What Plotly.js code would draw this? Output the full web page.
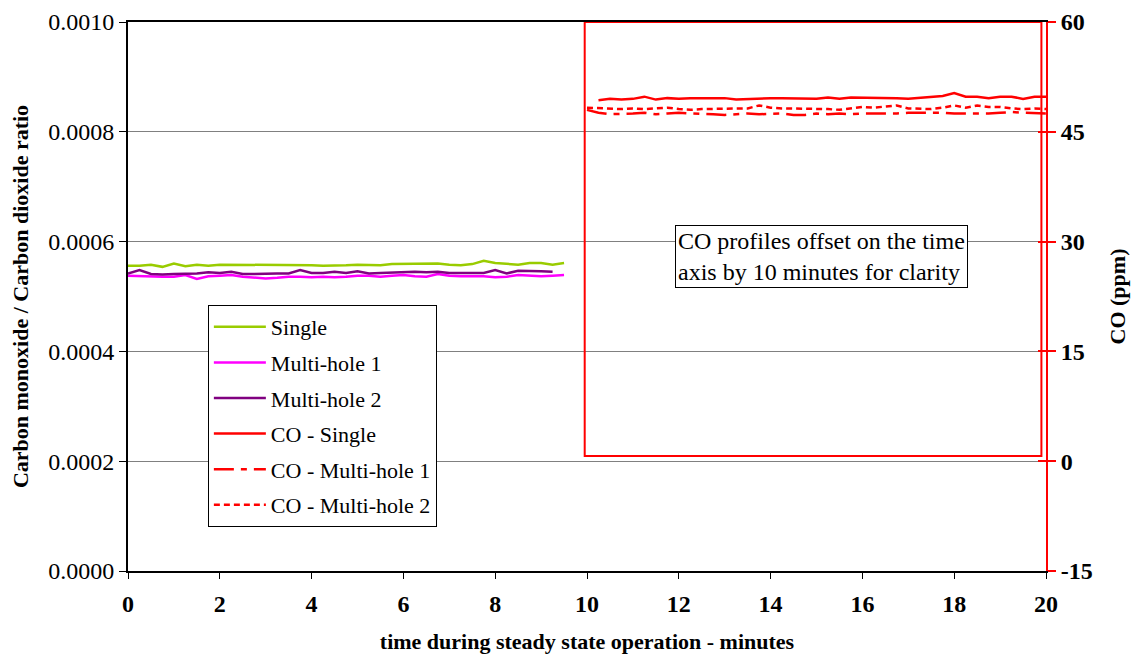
<!DOCTYPE html>
<html>
<head>
<meta charset="utf-8">
<script src="https://cdn.plot.ly/plotly-3.0.1.min.js"></script>
<style>html,body{margin:0;padding:0;background:#fff}#chart{width:1136px;height:657px}</style>
</head>
<body>
<div id="chart"></div>
<script>
// time (minutes) for ratio profiles
const timeRatio = [0,0.25,0.5,0.75,1,1.25,1.5,1.75,2,2.25,2.5,2.75,3,3.25,3.5,3.75,4,4.25,4.5,4.75,5,5.25,5.5,5.75,6,6.25,6.5,6.75,7,7.25,7.5,7.75,8,8.25,8.5,8.75,9,9.25,9.5];
// time (minutes, offset by 10) for CO profiles
const timeCO = [10,10.25,10.5,10.75,11,11.25,11.5,11.75,12,12.25,12.5,12.75,13,13.25,13.5,13.75,14,14.25,14.5,14.75,15,15.25,15.5,15.75,16,16.25,16.5,16.75,17,17.25,17.5,17.75,18,18.25,18.5,18.75,19,19.25,19.5,19.75,20];

const ratioSingle = [0.000556,0.000556,0.000558,0.000554,0.000560,0.000555,0.000558,0.000556,0.000558,0.000558,0.000558,0.000558,0.000557,0.000558,0.000558,0.000558,0.000557,0.000556,0.000556,0.000557,0.000558,0.000557,0.000557,0.000559,0.000559,0.000559,0.000559,0.000560,0.000558,0.000557,0.000559,0.000565,0.000561,0.000560,0.000558,0.000561,0.000561,0.000558,0.000561];
const ratioMulti1 = [0.000538,0.000537,0.000536,0.000536,0.000536,0.000539,0.000532,0.000537,0.000538,0.000539,0.000536,0.000534,0.000533,0.000534,0.000536,0.000536,0.000535,0.000536,0.000535,0.000536,0.000538,0.000538,0.000536,0.000538,0.000539,0.000537,0.000536,0.000541,0.000538,0.000537,0.000537,0.000537,0.000535,0.000536,0.000539,0.000538,0.000537,0.000538,0.000539];
const ratioMulti2 = [0.000542,0.000548,0.000541,0.000540,0.000541,0.000541,0.000542,0.000544,0.000543,0.000545,0.000541,0.000541,0.000542,0.000542,0.000542,0.000548,0.000543,0.000543,0.000545,0.000543,0.000546,0.000542,0.000543,0.000544,0.000545,0.000545,0.000544,0.000545,0.000543,0.000543,0.000542,0.000543,0.000548,0.000542,0.000547,0.000547,0.000546,0.000545];

const coSingle = [null,49.3,49.5,49.4,49.5,49.8,49.4,49.6,49.5,49.6,49.6,49.6,49.6,49.4,49.5,49.6,49.6,49.6,49.6,49.5,49.5,49.7,49.5,49.7,49.7,49.7,49.7,49.6,49.5,49.6,49.7,49.9,50.3,49.8,49.8,49.6,49.8,49.8,49.5,49.8,49.8];
const coMulti1 = [48.0,47.6,47.4,47.4,47.5,47.6,47.4,47.5,47.6,47.5,47.5,47.4,47.3,47.4,47.5,47.4,47.4,47.5,47.3,47.3,47.5,47.4,47.5,47.4,47.5,47.5,47.4,47.5,47.6,47.6,47.7,47.6,47.5,47.5,47.4,47.5,47.6,47.7,47.6,47.5,47.5];
const coMulti2 = [48.3,48.2,48.1,48.1,48.2,48.1,48.2,48.3,48.1,48.0,48.1,48.1,48.2,48.2,48.2,48.6,48.3,48.2,48.2,48.2,48.2,48.1,48.0,48.2,48.4,48.3,48.4,48.6,48.2,48.1,48.1,48.3,48.6,48.3,48.6,48.4,48.4,48.2,48.1,48.2,48.1];

const xTicks = [0,2,4,6,8,10,12,14,16,18,20];
const yLeftTicks = [0,0.0002,0.0004,0.0006,0.0008,0.0010];
const yRightTicks = [-15,0,15,30,45,60];

const FONT = '"Liberation Serif", "Times New Roman", Times, serif';
const RED = '#FF0000';

const traces = [
  {x: timeRatio, y: ratioSingle, name: 'Single', mode: 'lines', line: {color: '#99CC00', width: 2.5}, legendgroup: 'a'},
  {x: timeRatio, y: ratioMulti1, name: 'Multi-hole 1', mode: 'lines', line: {color: '#FF00FF', width: 2.5}, legendgroup: 'b'},
  {x: timeRatio.slice(0, ratioMulti2.length), y: ratioMulti2, name: 'Multi-hole 2', mode: 'lines', line: {color: '#800080', width: 2.5}, legendgroup: 'c'},
  {x: timeCO, y: coSingle, name: 'CO - Single', mode: 'lines', yaxis: 'y2', line: {color: RED, width: 2.5}, legendgroup: 'd'},
  {x: timeCO, y: coMulti1, name: 'CO - Multi-hole 1', mode: 'lines', yaxis: 'y2', line: {color: RED, width: 2.5, dash: '20px,7px,6px,7px'}, legendgroup: 'e'},
  {x: timeCO, y: coMulti2, name: 'CO - Multi-hole 2', mode: 'lines', yaxis: 'y2', line: {color: RED, width: 2.5, dash: '6px,4px'}, legendgroup: 'f'},
  {x: [timeCO[0]], y: [0], yaxis: 'y3', mode: 'lines', showlegend: false, hoverinfo: 'skip', line: {color: 'rgba(0,0,0,0)'}}
];

const layout = {
  width: 1136, height: 657,
  margin: {l: 128, r: 90, t: 22, b: 86},
  paper_bgcolor: '#fff', plot_bgcolor: '#fff',
  font: {family: FONT, color: '#000', size: 22},
  showlegend: true,
  legend: {
    x: 0.087, y: 0.4845, xanchor: 'left', yanchor: 'top',
    bgcolor: '#fff', bordercolor: '#000', borderwidth: 1,
    font: {family: FONT, size: 22, color: '#000'},
    tracegroupgap: 4, itemwidth: 52
  },
  xaxis: {
    range: [0, 20], tickvals: xTicks, ticktext: xTicks.map(v => '<b>' + v + '</b>'),
    showline: true, linecolor: '#000', linewidth: 2, mirror: true,
    ticks: 'outside', ticklen: 6, tickcolor: '#000', tickwidth: 1,
    ticklabelstandoff: 4,
    showgrid: false, zeroline: false,
    tickfont: {family: FONT, size: 24, color: '#000'},
    title: {text: '<b>time during steady state operation - minutes</b>', font: {family: FONT, size: 22, color: '#000'}, standoff: 18}
  },
  yaxis: {
    range: [0, 0.001], tickvals: yLeftTicks, tickformat: '.4f',
    showline: true, linecolor: '#000', linewidth: 2, mirror: false,
    ticks: 'outside', ticklen: 7, tickcolor: '#000', tickwidth: 1,
    showgrid: true, gridcolor: '#808080', gridwidth: 1, zeroline: false,
    tickfont: {family: FONT, size: 24, color: '#000'},
    title: {text: '<b>Carbon monoxide / Carbon dioxide ratio</b>', font: {family: FONT, size: 22, color: '#000'}, standoff: 14}
  },
  yaxis2: {
    overlaying: 'y', side: 'right', anchor: 'x',
    range: [-15, 60], tickvals: yRightTicks, ticktext: yRightTicks.map(v => '<b>' + v + '</b>'),
    showline: true, linecolor: RED, linewidth: 2,
    ticks: 'outside', ticklen: 8, tickcolor: RED, tickwidth: 2,
    showgrid: false, zeroline: false,
    tickfont: {family: FONT, size: 24, color: '#000'},
    title: {text: '<b>CO (ppm)</b>', font: {family: FONT, size: 22, color: '#000'}, standoff: 18}
  },
  yaxis3: {
    overlaying: 'y', side: 'right', anchor: 'x',
    range: [-15, 60], tickvals: yRightTicks,
    showline: true, linecolor: RED, linewidth: 2,
    ticks: 'inside', ticklen: 8, tickcolor: RED, tickwidth: 2,
    showticklabels: false, showgrid: false, zeroline: false
  },
  shapes: [
    {type: 'rect', xref: 'x', yref: 'y2', x0: 9.95, x1: 19.9, y0: 0.7, y1: 60,
     line: {color: RED, width: 2}, fillcolor: 'rgba(0,0,0,0)', layer: 'above'}
  ],
  annotations: [
    {xref: 'paper', yref: 'paper', x: 0.7555, y: 0.572, xanchor: 'center', yanchor: 'middle',
     text: 'CO profiles offset on the time<br>axis by 10 minutes for clarity', align: 'left',
     showarrow: false, bgcolor: '#fff', bordercolor: '#000', borderwidth: 1, borderpad: 2,
     font: {family: FONT, size: 24, color: '#000'}}
  ]
};

Plotly.newPlot('chart', traces, layout, {staticPlot: true, displayModeBar: false});
</script>
</body>
</html>
